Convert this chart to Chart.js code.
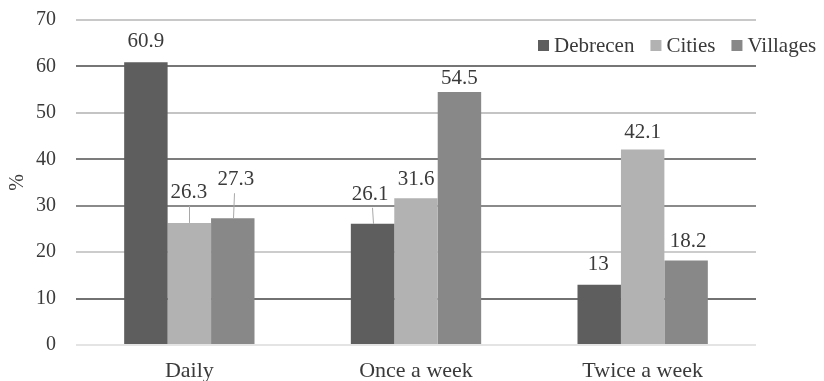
<!DOCTYPE html>
<html>
<head>
<meta charset="utf-8">
<script src="https://cdn.jsdelivr.net/npm/chart.js@4/dist/chart.umd.min.js"></script>
<style>
  html, body { margin: 0; padding: 0; background: #ffffff; }
  #wrap { width: 824px; height: 381px; position: relative; }
</style>
</head>
<body>
<div id="wrap"><canvas id="chart"></canvas></div>
<script>
// Share of respondents by frequency (%)
const categories = ['Daily', 'Once a week', 'Twice a week'];
const seriesNames = ['Debrecen', 'Cities', 'Villages'];
const debrecen = [60.9, 26.1, 13];
const cities = [26.3, 31.6, 42.1];
const villages = [27.3, 54.5, 18.2];
const yTickValues = [0, 10, 20, 30, 40, 50, 60, 70];

const serif = '"Liberation Serif", "Times New Roman", serif';
const textColor = '#3a3a3a';
const barColors = ['#5e5e5e', '#b2b2b2', '#888888'];
// horizontal rule shades, bottom to top
const gridShades = ['#e4e4e4', '#727272', '#cccccc', '#8a8a8a', '#7c7c7c', '#c4c4c4', '#767676', '#c8c8c8'];

// Value labels above each bar, a few lifted with a thin leader line
const valueLabels = {
  id: 'valueLabels',
  afterDatasetsDraw(chart, args, opts) {
    const ctx = chart.ctx;
    ctx.save();
    ctx.font = opts.font;
    ctx.fillStyle = opts.color;
    ctx.textAlign = 'center';
    ctx.textBaseline = 'alphabetic';
    chart.data.datasets.forEach((ds, i) => {
      const meta = chart.getDatasetMeta(i);
      meta.data.forEach((bar, j) => {
        const [dx, dy, leader] = opts.shifts[i][j];
        const x = bar.x + dx;
        const base = bar.y - opts.gap + dy;
        if (leader) {
          ctx.save();
          ctx.strokeStyle = opts.leaderColor;
          ctx.lineWidth = 1;
          ctx.beginPath();
          ctx.moveTo(Math.round(bar.x + dx * 0.3) + 0.5, base + 8);
          ctx.lineTo(Math.round(bar.x) + 0.5, bar.y);
          ctx.stroke();
          ctx.restore();
        }
        ctx.fillText(String(ds.data[j]), x, base);
      });
    });
    ctx.restore();
  }
};

// Legend row in the top right corner
const cornerLegend = {
  id: 'cornerLegend',
  afterDraw(chart, args, opts) {
    const ctx = chart.ctx;
    ctx.save();
    ctx.font = opts.font;
    ctx.textBaseline = 'alphabetic';
    ctx.textAlign = 'left';
    let x = opts.x;
    chart.data.datasets.forEach(ds => {
      ctx.fillStyle = ds.backgroundColor;
      ctx.fillRect(x, opts.boxTop, opts.box, opts.box);
      x += opts.box + opts.gap;
      ctx.fillStyle = opts.color;
      ctx.fillText(ds.label, x, opts.baseline);
      x += ctx.measureText(ds.label).width + opts.spacing;
    });
    ctx.restore();
  }
};

new Chart(document.getElementById('chart'), {
  type: 'bar',
  data: {
    labels: categories,
    datasets: [
      { label: seriesNames[0], data: debrecen, backgroundColor: barColors[0] },
      { label: seriesNames[1], data: cities, backgroundColor: barColors[1] },
      { label: seriesNames[2], data: villages, backgroundColor: barColors[2] }
    ]
  },
  options: {
    responsive: true,
    maintainAspectRatio: false,
    animation: false,
    datasets: { bar: { barPercentage: 1, categoryPercentage: 0.575, borderWidth: 0 } },
    layout: { padding: { left: 0, right: 68, top: 20, bottom: 0 } },
    plugins: {
      legend: { display: false },
      tooltip: { enabled: false },
      valueLabels: {
        font: '21px ' + serif,
        color: textColor,
        leaderColor: '#a8a8a8',
        gap: 13,
        shifts: [
          [[0, -2.5], [-2.5, -11, true], [-1, -1.5]],
          [[-0.5, -12, true], [0, 0], [0, 1]],
          [[3, -20, true], [0, 5], [2, -0.5]]
        ]
      },
      cornerLegend: {
        font: '21px ' + serif,
        color: textColor,
        x: 538, boxTop: 40, box: 11, baseline: 52, gap: 5, spacing: 16
      }
    },
    scales: {
      x: {
        grid: { display: false, drawTicks: false },
        border: { display: false },
        ticks: { color: textColor, font: { family: serif, size: 22 }, padding: 13 },
        afterFit(scale) { scale.height = 36; }
      },
      y: {
        min: 0,
        max: 70,
        afterBuildTicks(scale) { scale.ticks = yTickValues.map(v => ({ value: v })); },
        grid: {
          drawTicks: true,
          tickLength: 20,
          tickColor: 'rgba(0,0,0,0)',
          lineWidth: 2,
          color: ctx => gridShades[ctx.index] || '#c8c8c8'
        },
        border: { display: false },
        ticks: { color: textColor, font: { family: serif, size: 20 }, padding: 0 },
        title: {
          display: true,
          text: '%',
          color: textColor,
          font: { family: serif, size: 20 },
          padding: { top: 6, bottom: 0 }
        },
        afterFit(scale) { scale.width = 76; }
      }
    }
  },
  plugins: [valueLabels, cornerLegend]
});
</script>
</body>
</html>
